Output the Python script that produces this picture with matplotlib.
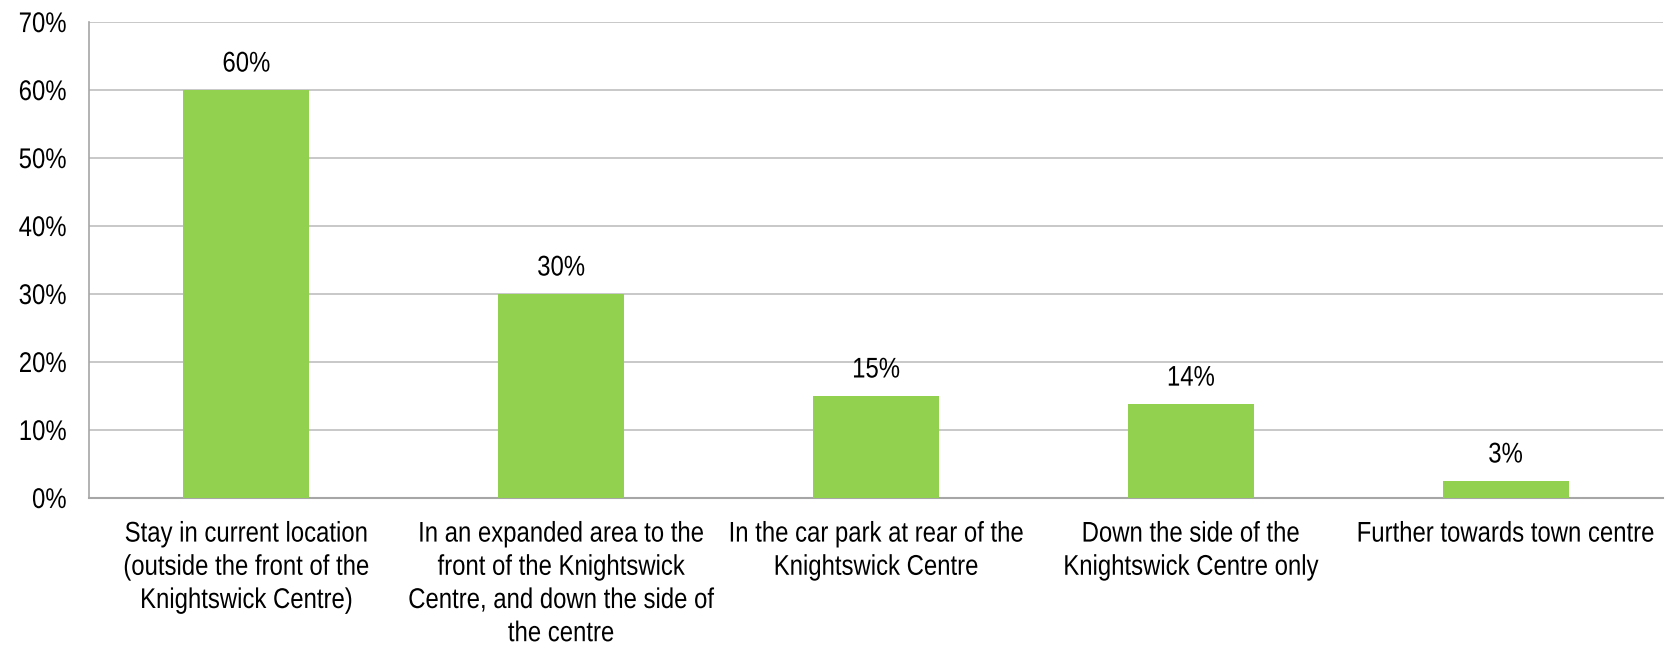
import matplotlib
matplotlib.use("Agg")
import matplotlib.pyplot as plt
import matplotlib.patheffects as pe
from matplotlib.ticker import FuncFormatter
from matplotlib.transforms import Affine2D

# data
categories = [
    "Stay in current location\n(outside the front of the\nKnightswick Centre)",
    "In an expanded area to the\nfront of the Knightswick\nCentre, and down the side of\nthe centre",
    "In the car park at rear of the\nKnightswick Centre",
    "Down the side of the\nKnightswick Centre only",
    "Further towards town centre",
]
values = [60, 30, 15, 13.8, 2.5]
value_labels = ["60%", "30%", "15%", "14%", "3%"]
yticks = [0, 10, 20, 30, 40, 50, 60, 70]

BAR = "#92D050"
GRID = "#BFBFBF"
FS = 20.5
SQ = 0.84   # the source uses a narrow font; squeeze glyphs horizontally


class Squeeze(pe.AbstractPathEffect):
    """Draw text glyphs narrower, keeping each line's centre (or right edge)."""

    def __init__(self, sx, anchor="center"):
        super().__init__()
        self.sx = sx
        self.anchor = anchor

    def draw_path(self, renderer, gc, tpath, affine, rgbFace=None):
        ext = tpath.get_extents()
        cx = ext.x1 if self.anchor == "right" else (ext.x0 + ext.x1) / 2
        t = Affine2D().translate(-cx, 0).scale(self.sx, 1).translate(cx, 0) + affine
        renderer.draw_path(gc, tpath, t, rgbFace)


plt.rcParams["font.family"] = ["Liberation Sans", "DejaVu Sans"]

fig = plt.figure(figsize=(16.75, 6.49), dpi=100)
ax = fig.add_axes([0.0531, 0.2327, 0.9397, 0.7333])

x = range(len(categories))
bars = ax.bar(x, values, width=0.4, color=BAR, zorder=3)
for b, lab in zip(bars, value_labels):
    ax.annotate(lab, (b.get_x() + b.get_width() / 2, b.get_height()),
                textcoords="offset points", xytext=(0, 9),
                ha="center", va="bottom", fontsize=FS,
                path_effects=[Squeeze(SQ)])

ax.set_xlim(-0.5, len(categories) - 0.5)
ax.set_ylim(0, 70)
ax.set_yticks(yticks)
ax.yaxis.set_major_formatter(FuncFormatter(lambda v, _: f"{v:.0f}%"))
ax.set_xticks(list(x))
ax.set_xticklabels(categories, linespacing=1.36)
ax.tick_params(axis="y", length=0, pad=16, labelsize=FS)
ax.tick_params(axis="x", length=0, pad=17, labelsize=FS)
for t in ax.get_xticklabels():
    t.set_path_effects([Squeeze(SQ)])
for t in ax.get_yticklabels():
    t.set_path_effects([Squeeze(SQ, anchor="right")])

ax.grid(axis="y", color=GRID, linewidth=1.2, zorder=0)
for side in ("top", "right"):
    ax.spines[side].set_visible(False)
ax.spines["left"].set_color("#A6A6A6")
ax.spines["bottom"].set_color("#A6A6A6")
ax.spines["left"].set_linewidth(1.2)
ax.spines["bottom"].set_linewidth(1.5)

fig.savefig("out.png", dpi=100)
